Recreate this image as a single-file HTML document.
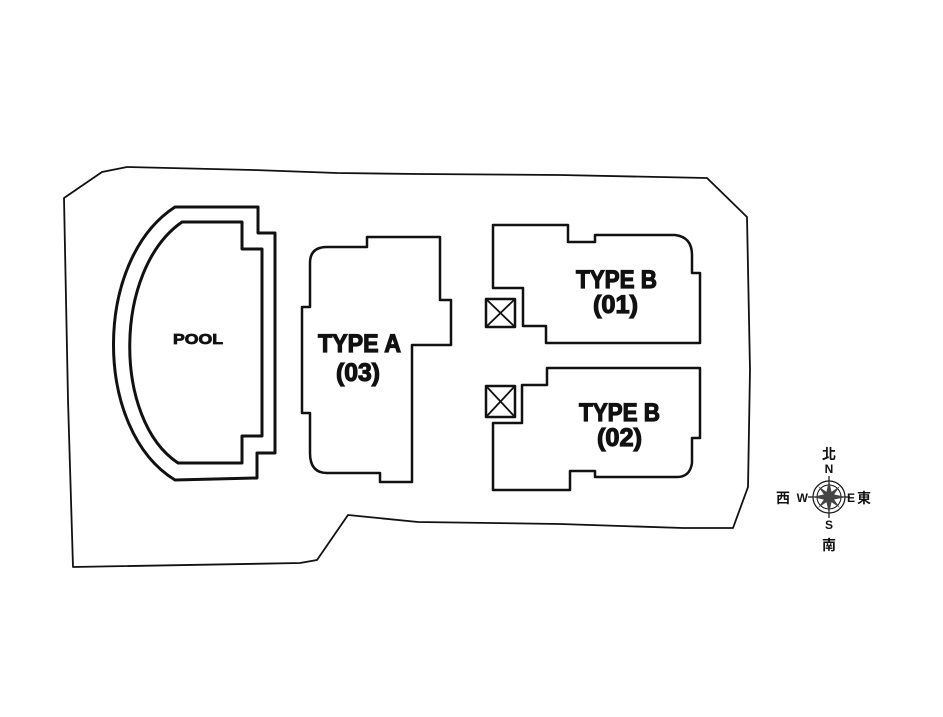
<!DOCTYPE html>
<html><head><meta charset="utf-8"><style>
html,body{margin:0;padding:0;background:#fff;}
svg{display:block;}
text{font-family:"Liberation Sans","Noto Sans CJK TC",sans-serif;font-weight:bold;fill:#111;}
.h{stroke:#111;stroke-width:1.2;}
</style></head><body>
<svg width="943" height="717" viewBox="0 0 943 717" xmlns="http://www.w3.org/2000/svg">
<g fill="none" stroke="#111" stroke-width="2.2" stroke-linejoin="round">
<path d="M64,198 L102,172 L127,167 L253,170 L337,173 L418,174 L560,175 L707,178 L747,217 L750,370 L748,487 L733,528 L683,528 L560,524 L418,522 L348,515 L317,560 L300,563 L73,567 L68,400 Z" stroke-width="1.8"/>
<path d="M175,207 L258,207 L258,233 L275,233 L275,453 L257,453 L257,478 L175,480 C93,430 93,260 175,207 Z" stroke-width="3"/>
<path d="M182,222 L242,222 L242,249 L262,249 L262,436 L242,436 L242,463 L178,463 C113,420 113,270 182,222 Z" stroke-width="3"/>
<path d="M367,237 L440,237 L440,300 L451,300 L451,345 L412,345 L412,482 L380,482 L380,473 L327,473 Q310,473 310,453 L310,413 L302,413 L302,307 L310,307 L310,263 Q310,247 327,247 L367,247 Z" stroke-width="2.5"/>
<path d="M493,225 L568,225 L568,242 L595,242 L595,235 L675,235 Q692,237 692,255 L692,273 L700,273 L700,343 L546,343 L546,326 L523,326 L523,288 L493,288 Z" stroke-width="2.5"/>
<path d="M547,368 L700,368 L700,438 L692,438 L692,463 Q690,477 677,477 L595,477 L595,471 L570,471 L570,490 L493,490 L493,423 L522,423 L522,385 L547,385 Z" stroke-width="2.5"/>
<rect x="486" y="299" width="29" height="28" stroke-width="2.5"/>
<path d="M486,299 L515,327 M515,299 L486,327" stroke-width="1.8"/>
<rect x="486" y="386" width="29" height="31" stroke-width="2.5"/>
<path d="M486,386 L515,417 M515,386 L486,417" stroke-width="1.8"/>
</g>
<text class="h" x="198" y="344" font-size="15" text-anchor="middle" textLength="50" lengthAdjust="spacingAndGlyphs" style="stroke-width:0.8">POOL</text>
<text class="h" x="318" y="352" font-size="25" textLength="83" lengthAdjust="spacingAndGlyphs">TYPE A</text>
<text class="h" x="336" y="381" font-size="25" textLength="44" lengthAdjust="spacingAndGlyphs">(03)</text>
<text class="h" x="576" y="288" font-size="25" textLength="81" lengthAdjust="spacingAndGlyphs">TYPE B</text>
<text class="h" x="593" y="313" font-size="25" textLength="45" lengthAdjust="spacingAndGlyphs">(01)</text>
<text class="h" x="579" y="421" font-size="25" textLength="81" lengthAdjust="spacingAndGlyphs">TYPE B</text>
<text class="h" x="597" y="446" font-size="25" textLength="45" lengthAdjust="spacingAndGlyphs">(02)</text>
<g stroke="#111" fill="none">
<circle cx="829" cy="497" r="16" stroke-width="1.2"/>
<circle cx="829" cy="497" r="12" stroke-width="1"/>
<line x1="829" y1="476" x2="829" y2="518" stroke-width="1.2"/>
<line x1="808" y1="497" x2="850" y2="497" stroke-width="1.2"/>
</g>
<path d="M829,480 L832,494 L846,497 L832,500 L829,514 L826,500 L812,497 L826,494 Z M818,486 L831,495 L840,508 L827,499 Z M840,486 L831,499 L818,508 L827,495 Z" fill="#444"/>
<text x="829" y="473" font-size="12" text-anchor="middle">N</text>
<text x="829" y="529" font-size="12" text-anchor="middle">S</text>
<text x="808" y="502" font-size="12" text-anchor="end">W</text>
<text x="847" y="502" font-size="12">E</text>
<text x="829" y="459" font-size="14" font-weight="normal" text-anchor="middle">北</text>
<text x="829" y="550" font-size="14" font-weight="normal" text-anchor="middle">南</text>
<text x="790" y="503" font-size="14" font-weight="normal" text-anchor="end">西</text>
<text x="857" y="503" font-size="14" font-weight="normal">東</text>
</svg>
</body></html>
